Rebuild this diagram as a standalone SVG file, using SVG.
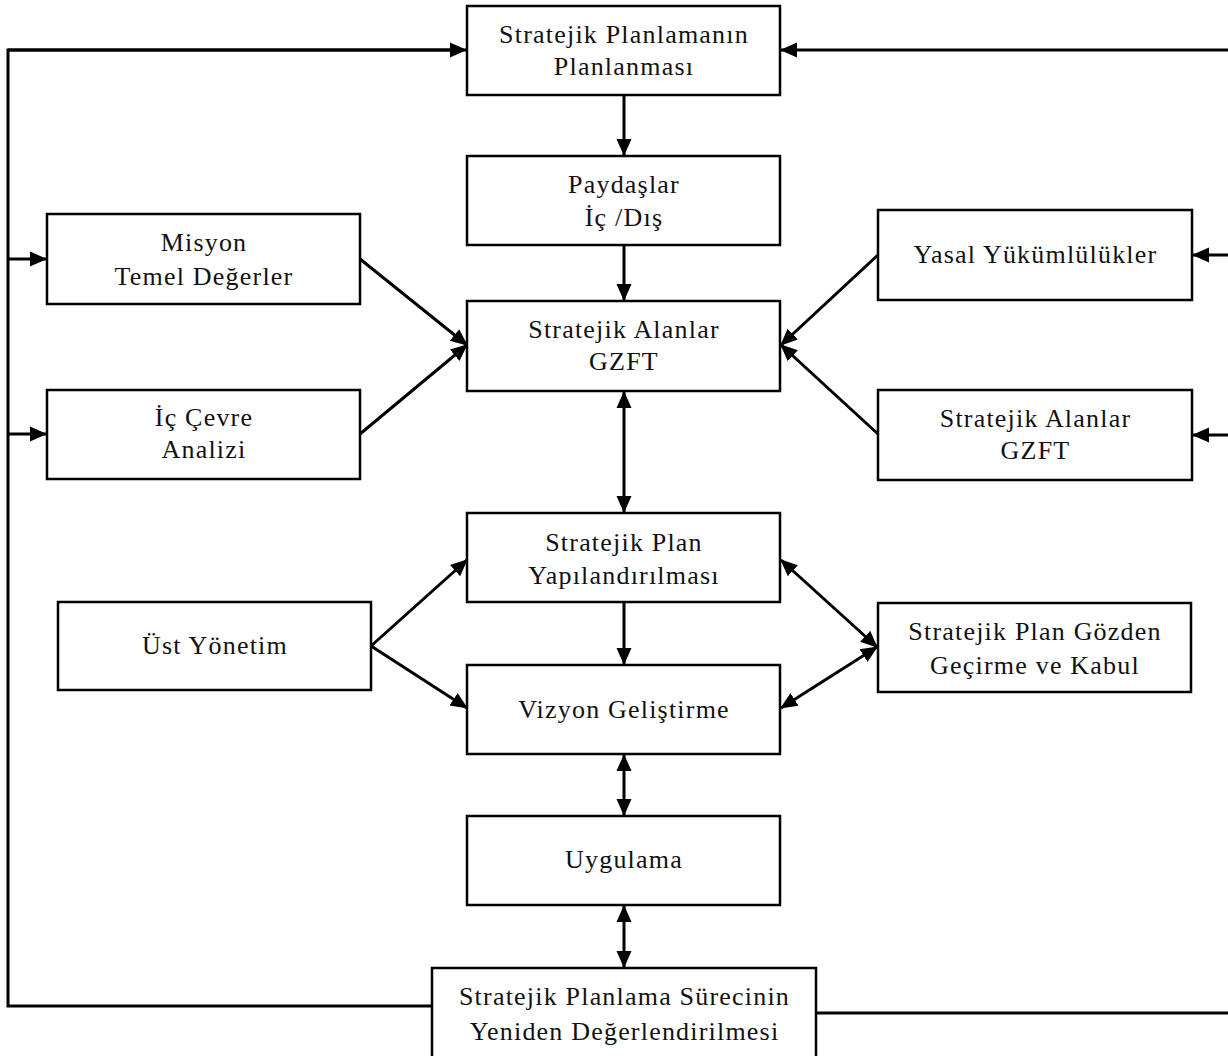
<svg xmlns="http://www.w3.org/2000/svg" width="1228" height="1056" viewBox="0 0 1228 1056">
<style>
.box{fill:#fff;stroke:#000;stroke-width:2.5}
.t{font-family:"Liberation Serif","DejaVu Serif",serif;font-size:26px;letter-spacing:1.2px;fill:#111;text-anchor:middle}
.c{fill:none;stroke:#000;stroke-width:3}
.a{marker-end:url(#ah)}
.d{marker-start:url(#ah);marker-end:url(#ah)}
</style>
<defs>
<marker id="ah" markerUnits="userSpaceOnUse" markerWidth="17" markerHeight="17" viewBox="0 0 17 17" refX="16" refY="8.5" orient="auto-start-reverse">
<path d="M0,1 L17,8.5 L0,16 z" fill="#000"/>
</marker>
</defs>
<rect width="1228" height="1056" fill="#fff"/>
<g id="connectors">
<polyline class="c" points="432,1006 8,1006 8,50 453,50"/>
<path class="c" d="M8,50 L466,50" marker-end="url(#ah)"/>
<path class="c a" d="M8,259 L46,259"/>
<path class="c a" d="M8,434 L46,434"/>
<path class="c a" d="M1228,50 L781,50"/>
<path class="c" d="M816,1013 L1228,1013"/>
<path class="c a" d="M1228,255 L1193,255"/>
<path class="c a" d="M1228,435 L1193,435"/>
<path class="c a" d="M360,259 L467,345"/>
<path class="c a" d="M360,434 L467,345"/>
<path class="c a" d="M878,255 L781,345"/>
<path class="c a" d="M878,434 L781,345"/>
<path class="c a" d="M371,646 L467,560"/>
<path class="c a" d="M371,646 L467,708"/>
<path class="c d" d="M877,647 L781,560"/>
<path class="c d" d="M877,647 L781,708"/>
<path class="c a" d="M624,95 L624,155"/>
<path class="c a" d="M624,245 L624,300"/>
<path class="c d" d="M624,392 L624,512"/>
<path class="c a" d="M624,602 L624,664"/>
<path class="c d" d="M624,755 L624,815"/>
<path class="c d" d="M624,906 L624,967"/>
</g>
<g id="n_planlanmasi"><rect class="box" x="467" y="6" width="313" height="89"/><text class="t" x="624" y="43">Stratejik Planlamanın</text><text class="t" x="624" y="75">Planlanması</text></g>
<g id="n_paydaslar"><rect class="box" x="467" y="156" width="313" height="89"/><text class="t" x="624" y="193">Paydaşlar</text><text class="t" x="624" y="226">İç /Dış</text></g>
<g id="n_alanlar"><rect class="box" x="467" y="301" width="313" height="90"/><text class="t" x="624" y="338">Stratejik Alanlar</text><text class="t" x="624" y="370">GZFT</text></g>
<g id="n_misyon"><rect class="box" x="47" y="214" width="313" height="90"/><text class="t" x="204" y="251">Misyon</text><text class="t" x="204" y="285">Temel Değerler</text></g>
<g id="n_iccevre"><rect class="box" x="47" y="390" width="313" height="89"/><text class="t" x="204" y="426">İç Çevre</text><text class="t" x="204" y="458">Analizi</text></g>
<g id="n_yasal"><rect class="box" x="878" y="210" width="314" height="90"/><text class="t" x="1035.5" y="263">Yasal Yükümlülükler</text></g>
<g id="n_alanlar2"><rect class="box" x="878" y="390" width="314" height="90"/><text class="t" x="1035.5" y="427">Stratejik Alanlar</text><text class="t" x="1035.5" y="459">GZFT</text></g>
<g id="n_plan"><rect class="box" x="467" y="513" width="313" height="89"/><text class="t" x="624" y="551">Stratejik Plan</text><text class="t" x="624" y="584">Yapılandırılması</text></g>
<g id="n_ust"><rect class="box" x="58" y="602" width="313" height="88"/><text class="t" x="215" y="654">Üst Yönetim</text></g>
<g id="n_gozden"><rect class="box" x="878" y="603" width="313" height="89"/><text class="t" x="1035" y="640">Stratejik Plan Gözden</text><text class="t" x="1035" y="674">Geçirme ve Kabul</text></g>
<g id="n_vizyon"><rect class="box" x="467" y="665" width="313" height="89"/><text class="t" x="624" y="718">Vizyon Geliştirme</text></g>
<g id="n_uygulama"><rect class="box" x="467" y="816" width="313" height="89"/><text class="t" x="624" y="868">Uygulama</text></g>
<g id="n_yeniden"><rect class="box" x="432" y="968" width="384" height="100"/><text class="t" x="624.5" y="1005">Stratejik Planlama Sürecinin</text><text class="t" x="624.5" y="1040">Yeniden Değerlendirilmesi</text></g>
</svg>
